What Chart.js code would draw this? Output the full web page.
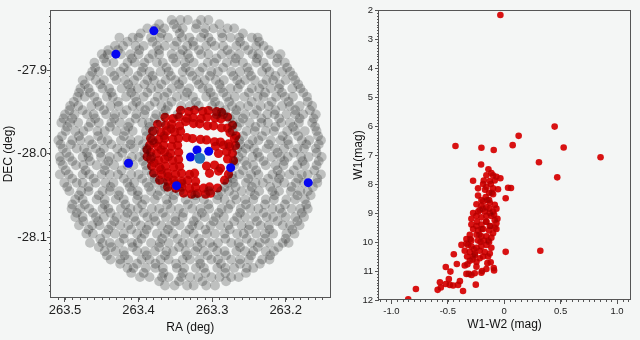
<!DOCTYPE html>
<html>
<head>
<meta charset="utf-8">
<script src="https://cdn.jsdelivr.net/npm/chart.js@4.4.1/dist/chart.umd.min.js"></script>
<style>
  html, body { margin: 0; padding: 0; background: #f4f6f5; }
  #wrap { position: relative; width: 640px; height: 340px; overflow: hidden; }
  canvas { position: absolute; top: 0; }
  #sky { left: 0; }
  #cmd { left: 335px; }
</style>
</head>
<body>
<div id="wrap">
  <canvas id="sky" width="335" height="340"></canvas>
  <canvas id="cmd" width="305" height="340"></canvas>
</div>
<script>
// ticks
const raTicks = [263.5, 263.4, 263.3, 263.2];
const decTicks = [-27.9, -28.0, -28.1];
const colorTicks = [-1.0, -0.5, 0, 0.5, 1.0];
const colorTickLabels = ["-1.0", "-0.5", "0", "0.5", "1.0"];
const w1Ticks = [2, 3, 4, 5, 6, 7, 8, 9, 10, 11, 12];

// field stars (grey), one row per dec: [dec, [ra, ...]]
const fieldRows = [
  [-27.840, [263.305, 263.315, 263.333, 263.343, 263.355]],
  [-27.845, [263.290, 263.321, 263.352, 263.372]],
  [-27.850, [263.270, 263.279, 263.298, 263.309, 263.322, 263.340, 263.348, 263.365, 263.377, 263.388]],
  [-27.856, [263.258, 263.287, 263.311, 263.344, 263.369, 263.397]],
  [-27.861, [263.238, 263.246, 263.263, 263.275, 263.286, 263.305, 263.315, 263.331, 263.341, 263.360, 263.371, 263.383, 263.400, 263.408, 263.426]],
  [-27.866, [263.236, 263.262, 263.301, 263.326, 263.348, 263.381, 263.415]],
  [-27.871, [263.230, 263.240, 263.256, 263.267, 263.285, 263.296, 263.308, 263.325, 263.334, 263.351, 263.364, 263.375, 263.393, 263.404, 263.421, 263.432]],
  [-27.876, [263.223, 263.251, 263.279, 263.318, 263.340, 263.372, 263.399, 263.428, 263.441]],
  [-27.881, [263.207, 263.220, 263.237, 263.245, 263.263, 263.275, 263.287, 263.305, 263.315, 263.333, 263.343, 263.355, 263.372, 263.381, 263.400, 263.411, 263.424, 263.442, 263.450]],
  [-27.886, [263.211, 263.239, 263.268, 263.294, 263.331, 263.353, 263.386, 263.409, 263.447]],
  [-27.891, [263.201, 263.212, 263.230, 263.240, 263.258, 263.269, 263.280, 263.297, 263.306, 263.325, 263.337, 263.349, 263.367, 263.375, 263.392, 263.405, 263.415, 263.434, 263.444, 263.460]],
  [-27.897, [263.198, 263.226, 263.252, 263.285, 263.313, 263.336, 263.362, 263.394, 263.420, 263.459]],
  [-27.902, [263.194, 263.205, 263.222, 263.232, 263.250, 263.262, 263.274, 263.292, 263.301, 263.317, 263.330, 263.340, 263.359, 263.370, 263.385, 263.396, 263.414, 263.425, 263.438, 263.454, 263.463]],
  [-27.907, [263.190, 263.214, 263.247, 263.271, 263.303, 263.327, 263.356, 263.381, 263.401, 263.433, 263.466]],
  [-27.912, [263.187, 263.200, 263.217, 263.226, 263.242, 263.255, 263.266, 263.284, 263.295, 263.310, 263.321, 263.340, 263.350, 263.363, 263.379, 263.388, 263.406, 263.418, 263.430, 263.447, 263.458, 263.476]],
  [-27.917, [263.183, 263.208, 263.231, 263.262, 263.290, 263.318, 263.345, 263.369, 263.392, 263.414, 263.452, 263.473]],
  [-27.922, [263.180, 263.191, 263.209, 263.220, 263.236, 263.246, 263.265, 263.275, 263.288, 263.305, 263.313, 263.331, 263.343, 263.355, 263.373, 263.383, 263.401, 263.411, 263.423, 263.440, 263.449, 263.468, 263.479]],
  [-27.927, [263.176, 263.205, 263.228, 263.250, 263.285, 263.302, 263.334, 263.361, 263.388, 263.410, 263.437, 263.466, 263.481]],
  [-27.932, [263.171, 263.190, 263.201, 263.213, 263.230, 263.238, 263.256, 263.269, 263.280, 263.298, 263.308, 263.326, 263.337, 263.348, 263.365, 263.374, 263.393, 263.405, 263.417, 263.435, 263.443, 263.460, 263.473, 263.483]],
  [-27.938, [263.170, 263.196, 263.219, 263.246, 263.277, 263.296, 263.322, 263.355, 263.378, 263.403, 263.428, 263.456, 263.488]],
  [-27.943, [263.164, 263.181, 263.194, 263.205, 263.223, 263.234, 263.251, 263.262, 263.273, 263.290, 263.300, 263.318, 263.330, 263.342, 263.360, 263.369, 263.385, 263.398, 263.408, 263.427, 263.438, 263.453, 263.464, 263.482, 263.493]],
  [-27.948, [263.167, 263.187, 263.214, 263.239, 263.267, 263.282, 263.363, 263.391, 263.416, 263.447, 263.476, 263.494]],
  [-27.953, [263.159, 263.176, 263.187, 263.199, 263.215, 263.225, 263.243, 263.255, 263.268, 263.285, 263.294, 263.347, 263.366, 263.376, 263.392, 263.403, 263.421, 263.432, 263.444, 263.461, 263.470, 263.487, 263.500]],
  [-27.958, [263.162, 263.181, 263.209, 263.233, 263.258, 263.276, 263.378, 263.404, 263.433, 263.459, 263.490, 263.502]],
  [-27.963, [263.164, 263.182, 263.194, 263.206, 263.224, 263.233, 263.249, 263.262, 263.272, 263.370, 263.386, 263.395, 263.412, 263.425, 263.437, 263.454, 263.465, 263.482, 263.493, 263.505]],
  [-27.968, [263.160, 263.190, 263.214, 263.241, 263.266, 263.385, 263.414, 263.439, 263.468, 263.497]],
  [-27.973, [263.158, 263.174, 263.187, 263.198, 263.216, 263.227, 263.242, 263.253, 263.272, 263.379, 263.390, 263.408, 263.418, 263.430, 263.446, 263.456, 263.475, 263.486, 263.499]],
  [-27.979, [263.156, 263.183, 263.204, 263.232, 263.258, 263.389, 263.420, 263.455, 263.481, 263.504]],
  [-27.984, [263.152, 263.168, 263.178, 263.197, 263.207, 263.220, 263.237, 263.245, 263.263, 263.381, 263.400, 263.411, 263.424, 263.442, 263.450, 263.467, 263.479, 263.490, 263.509]],
  [-27.989, [263.155, 263.172, 263.196, 263.223, 263.250, 263.262, 263.394, 263.411, 263.437, 263.463, 263.492, 263.506]],
  [-27.994, [263.159, 263.175, 263.184, 263.202, 263.214, 263.226, 263.243, 263.254, 263.266, 263.389, 263.406, 263.418, 263.429, 263.447, 263.458, 263.474, 263.484, 263.503]],
  [-27.999, [263.158, 263.189, 263.211, 263.238, 263.259, 263.392, 263.422, 263.452, 263.470, 263.498]],
  [-28.004, [263.151, 263.169, 263.179, 263.197, 263.207, 263.219, 263.236, 263.245, 263.264, 263.383, 263.399, 263.409, 263.428, 263.439, 263.451, 263.468, 263.476, 263.494, 263.507]],
  [-28.009, [263.155, 263.177, 263.202, 263.230, 263.256, 263.268, 263.394, 263.415, 263.441, 263.466, 263.490, 263.506]],
  [-28.014, [263.158, 263.174, 263.184, 263.203, 263.214, 263.227, 263.244, 263.253, 263.270, 263.390, 263.407, 263.415, 263.433, 263.445, 263.457, 263.475, 263.485, 263.503]],
  [-28.020, [263.161, 263.189, 263.211, 263.240, 263.258, 263.389, 263.423, 263.446, 263.472, 263.499]],
  [-28.025, [263.152, 263.170, 263.178, 263.195, 263.207, 263.218, 263.237, 263.247, 263.263, 263.273, 263.382, 263.400, 263.410, 263.428, 263.439, 263.450, 263.467, 263.476, 263.495, 263.507]],
  [-28.030, [263.157, 263.183, 263.209, 263.224, 263.251, 263.272, 263.378, 263.395, 263.420, 263.461, 263.490]],
  [-28.035, [263.157, 263.175, 263.186, 263.202, 263.212, 263.231, 263.241, 263.254, 263.271, 263.279, 263.367, 263.377, 263.389, 263.406, 263.415, 263.434, 263.445, 263.458, 263.476, 263.484, 263.501]],
  [-28.040, [263.163, 263.192, 263.221, 263.246, 263.268, 263.283, 263.364, 263.386, 263.412, 263.438, 263.468, 263.497]],
  [-28.045, [263.170, 263.180, 263.193, 263.209, 263.218, 263.236, 263.248, 263.260, 263.277, 263.288, 263.304, 263.344, 263.359, 263.371, 263.383, 263.401, 263.409, 263.426, 263.439, 263.449, 263.468, 263.478, 263.494]],
  [-28.050, [263.166, 263.184, 263.215, 263.242, 263.270, 263.292, 263.323, 263.352, 263.374, 263.401, 263.427, 263.454, 263.481]],
  [-28.055, [263.174, 263.187, 263.199, 263.216, 263.227, 263.244, 263.255, 263.267, 263.283, 263.293, 263.311, 263.323, 263.336, 263.353, 263.362, 263.378, 263.391, 263.402, 263.420, 263.431, 263.446, 263.457, 263.476, 263.486]],
  [-28.061, [263.172, 263.201, 263.228, 263.254, 263.275, 263.305, 263.333, 263.361, 263.395, 263.418, 263.446, 263.473, 263.490]],
  [-28.066, [263.170, 263.180, 263.192, 263.208, 263.218, 263.237, 263.248, 263.261, 263.278, 263.287, 263.304, 263.316, 263.327, 263.345, 263.356, 263.372, 263.382, 263.401, 263.411, 263.424, 263.441, 263.449, 263.467, 263.479, 263.491]],
  [-28.071, [263.178, 263.205, 263.230, 263.262, 263.291, 263.314, 263.339, 263.367, 263.393, 263.415, 263.438, 263.462, 263.484]],
  [-28.076, [263.175, 263.187, 263.200, 263.217, 263.226, 263.242, 263.255, 263.266, 263.284, 263.295, 263.310, 263.321, 263.340, 263.350, 263.363, 263.379, 263.388, 263.406, 263.418, 263.430, 263.447, 263.458, 263.476, 263.486]],
  [-28.081, [263.184, 263.211, 263.239, 263.270, 263.298, 263.325, 263.350, 263.377, 263.404, 263.433, 263.455, 263.475]],
  [-28.086, [263.181, 263.194, 263.204, 263.223, 263.234, 263.249, 263.260, 263.278, 263.289, 263.302, 263.318, 263.327, 263.344, 263.357, 263.369, 263.386, 263.397, 263.414, 263.425, 263.437, 263.453, 263.463, 263.481]],
  [-28.091, [263.191, 263.222, 263.250, 263.276, 263.309, 263.331, 263.360, 263.389, 263.410, 263.441, 263.468]],
  [-28.096, [263.188, 263.199, 263.217, 263.228, 263.240, 263.257, 263.266, 263.283, 263.296, 263.307, 263.325, 263.336, 263.353, 263.364, 263.375, 263.392, 263.402, 263.420, 263.432, 263.444, 263.462, 263.471]],
  [-28.102, [263.200, 263.228, 263.253, 263.282, 263.318, 263.347, 263.368, 263.396, 263.420, 263.452]],
  [-28.107, [263.196, 263.204, 263.222, 263.235, 263.246, 263.264, 263.274, 263.292, 263.303, 263.314, 263.331, 263.340, 263.359, 263.371, 263.383, 263.401, 263.409, 263.426, 263.439, 263.449, 263.466]],
  [-28.112, [263.210, 263.238, 263.262, 263.299, 263.320, 263.345, 263.372, 263.408, 263.437, 263.454]],
  [-28.117, [263.216, 263.227, 263.244, 263.255, 263.267, 263.283, 263.293, 263.311, 263.323, 263.336, 263.353, 263.362, 263.378, 263.391, 263.402, 263.420, 263.431, 263.446]],
  [-28.122, [263.221, 263.247, 263.281, 263.306, 263.334, 263.364, 263.389, 263.419, 263.443]],
  [-28.127, [263.222, 263.232, 263.250, 263.262, 263.274, 263.292, 263.301, 263.317, 263.330, 263.340, 263.359, 263.370, 263.385, 263.396, 263.414, 263.425, 263.438]],
  [-28.132, [263.235, 263.262, 263.288, 263.316, 263.349, 263.377, 263.402, 263.425]],
  [-28.137, [263.244, 263.253, 263.270, 263.282, 263.293, 263.311, 263.322, 263.338, 263.348, 263.367, 263.377, 263.390, 263.407, 263.415]],
  [-28.143, [263.254, 263.282, 263.309, 263.340, 263.366, 263.393, 263.410]],
  [-28.148, [263.264, 263.274, 263.290, 263.301, 263.319, 263.330, 263.342, 263.359, 263.368, 263.385, 263.398]],
  [-28.153, [263.281, 263.313, 263.345, 263.372]],
  [-28.158, [263.296, 263.308, 263.325, 263.334, 263.351, 263.364]]
];

// cluster members (red) [ra, dec]
const memberRaDec = [
  [263.3428, -27.9481], [263.3318, -27.9497], [263.3238, -27.9479], [263.3128, -27.9493], [263.3050, -27.9484], [263.2939, -27.9498], [263.2872, -27.9505],
  [263.3640, -27.9566], [263.3530, -27.9580], [263.3450, -27.9562], [263.3339, -27.9576], [263.3260, -27.9569], [263.3150, -27.9580], [263.3070, -27.9563], [263.2959, -27.9573], [263.2880, -27.9584], [263.2790, -27.9562],
  [263.3741, -27.9650], [263.3631, -27.9662], [263.3551, -27.9648], [263.3441, -27.9667], [263.3360, -27.9616], [263.3252, -27.9640], [263.3170, -27.9644], [263.3062, -27.9668], [263.2980, -27.9667], [263.2872, -27.9692], [263.2790, -27.9694], [263.2722, -27.9660],
  [263.3808, -27.9731], [263.3699, -27.9745], [263.3618, -27.9728], [263.3509, -27.9744], [263.3428, -27.9733], [263.2756, -27.9751], [263.2675, -27.9787],
  [263.3835, -27.9816], [263.3727, -27.9830], [263.3646, -27.9815], [263.3537, -27.9829], [263.3456, -27.9818], [263.3347, -27.9808], [263.3266, -27.9820], [263.3157, -27.9831], [263.3076, -27.9836], [263.2967, -27.9858], [263.2886, -27.9862], [263.2777, -27.9884], [263.2696, -27.9818],
  [263.3849, -27.9899], [263.3740, -27.9913], [263.3659, -27.9898], [263.3550, -27.9912], [263.3469, -27.9901], [263.2953, -27.9912], [263.2844, -27.9897], [263.2763, -27.9915], [263.2682, -27.9902],
  [263.3835, -27.9984], [263.3754, -28.0001], [263.3645, -27.9981], [263.3564, -27.9998], [263.3455, -27.9983], [263.2913, -27.9999], [263.2804, -27.9979], [263.2723, -27.9997],
  [263.3835, -28.0067], [263.3727, -28.0081], [263.3646, -28.0066], [263.3537, -28.0083], [263.3456, -28.0070], [263.2790, -28.0064], [263.2709, -28.0085],
  [263.3822, -28.0150], [263.3713, -28.0165], [263.3632, -28.0149], [263.3523, -28.0163], [263.3442, -28.0152],
  [263.3076, -28.0150], [263.2967, -28.0138], [263.2886, -28.0176], [263.3035, -28.0236], [263.2912, -28.0210],
  [263.3795, -28.0234], [263.3686, -28.0248], [263.3605, -28.0232], [263.3496, -28.0249], [263.3415, -28.0236], [263.3306, -28.0250], [263.3238, -28.0235], [263.2777, -28.0247],
  [263.3713, -28.0318], [263.3604, -28.0333], [263.3523, -28.0317], [263.3414, -28.0331], [263.3333, -28.0320], [263.3224, -28.0334], [263.2831, -28.0319],
  [263.3605, -28.0401], [263.3496, -28.0416], [263.3415, -28.0402], [263.3306, -28.0417], [263.3225, -28.0403], [263.3116, -28.0414], [263.3035, -28.0400], [263.2926, -28.0412],
  [263.3388, -28.0473], [263.3279, -28.0486], [263.3198, -28.0476], [263.3089, -28.0487], [263.3021, -28.0474],
  [263.3788, -27.9870], [263.3693, -27.9954], [263.3598, -28.0038], [263.3788, -28.0110], [263.3693, -28.0193], [263.3598, -28.0277],
  [263.3503, -28.0361], [263.3652, -27.9787], [263.3557, -27.9703], [263.3883, -27.9954], [263.3883, -28.0038], [263.3408, -28.0361]
];

// other stars (blue) [ra, dec]
const blueRaDec = [
  [263.3792, -27.8530], [263.4308, -27.8809], [263.4136, -28.0116], [263.3484, -28.0384], [263.3294, -28.0041],
  [263.3205, -27.9957], [263.3046, -27.9973], [263.2748, -28.0169], [263.1693, -28.0348]
];
const centreRaDec = [[263.3168, -28.0056]];

// colour-magnitude diagram of the members
const cmdColor = [
  -0.034, 0.447, 0.128, -0.432, -0.202, -0.093, 0.075, 0.527, 0.854, 0.308, 0.470, -0.205, 0.320, 0.013, -0.851, -0.783,
  -0.034, 0.034, 0.060, 0.013, -0.276, -0.140,
  -0.590, -0.562, -0.570, -0.518, -0.482, -0.453, -0.409, -0.491, -0.393, -0.365, -0.252, -0.518, -0.477, -0.420, -0.447,
  -0.350, -0.326, -0.314, -0.290, -0.261, -0.196, -0.158, -0.149, -0.093, -0.090, -0.246, -0.217, -0.187, -0.143, -0.202, -0.246, -0.335,
  -0.114, -0.099, -0.069, -0.158, -0.181, -0.128, -0.084,
  -0.232, -0.187, -0.158, -0.119, -0.099, -0.055, -0.099, -0.134, -0.164, -0.232, -0.202, -0.134, -0.187,
  -0.246, -0.202, -0.158, -0.128, -0.084, -0.217, -0.173, -0.128, -0.099, -0.276, -0.069,
  -0.291, -0.246, -0.202, -0.158, -0.114, -0.084, -0.069, -0.158, -0.202, -0.246, -0.128, -0.084, -0.291,
  -0.276, -0.232, -0.187, -0.134, -0.099, -0.069, -0.305, -0.246, -0.202, -0.158, -0.114, -0.335, -0.291, -0.232, -0.181, -0.134,
  -0.379, -0.335, -0.291, -0.246, -0.202, -0.158, -0.114, -0.350, -0.305, -0.261, -0.217, -0.173, -0.128, -0.329, -0.276,
  -0.150, -0.220, -0.120, -0.300, -0.260, -0.160, -0.190, -0.210, -0.240, -0.110, -0.270, -0.140, -0.170, -0.090, -0.280,
  -0.200, -0.230, -0.320, -0.130, -0.060, -0.305, -0.120
];
const cmdW1 = [
  2.17, 6.02, 6.34, 6.69, 6.75, 6.83, 6.66, 6.74, 7.08, 7.25, 7.77, 7.33, 10.30, 10.34, 11.98, 11.62,
  7.80, 8.13, 8.14, 8.49, 7.89, 7.49,
  11.65, 11.57, 11.39, 11.45, 11.48, 11.50, 11.48, 11.28, 11.35, 11.69, 11.47, 10.86, 11.02, 10.76, 10.42,
  10.81, 10.77, 11.10, 11.14, 11.08, 11.00, 10.93, 10.73, 10.90, 10.98, 10.68, 10.56, 10.50, 10.50, 11.06, 10.85, 11.10,
  7.62, 7.70, 7.75, 7.70, 7.88, 7.90, 7.88,
  8.15, 8.00, 8.10, 8.00, 8.15, 8.18, 8.35, 8.30, 8.45, 8.40, 8.55, 8.55, 8.60,
  8.70, 8.75, 8.80, 8.65, 8.72, 8.90, 8.95, 9.00, 8.95, 9.00, 8.85,
  9.20, 9.10, 9.15, 9.10, 9.10, 9.25, 9.35, 9.30, 9.40, 9.45, 9.45, 9.50, 9.40,
  9.55, 9.60, 9.55, 9.60, 9.70, 9.55, 9.75, 9.75, 9.80, 9.80, 9.85, 9.90, 9.95, 9.95, 9.95, 10.00,
  10.10, 10.05, 10.15, 10.20, 10.15, 10.10, 10.20, 10.30, 10.35, 10.40, 10.30, 10.35, 10.40, 10.50, 10.50,
  8.55, 9.75, 9.45, 9.90, 10.45, 9.30, 8.85, 10.00, 9.30, 8.30, 10.25, 9.95, 8.20, 9.05, 10.60,
  9.55, 8.95, 10.10, 8.85, 9.20, 10.65, 10.70
];

const BG = "#f4f6f5";
const FONT = "'Liberation Sans', Arial, sans-serif";

function framePlugin(minor) {
  return {
    id: "frame",
    beforeDraw(chart) {
      const c = chart.ctx;
      c.save();
      c.fillStyle = BG;
      c.fillRect(0, 0, chart.width, chart.height);
      c.restore();
    },
    beforeDatasetDraw(chart, args) {
      if (chart.data.datasets[args.index].multiply) {
        chart.ctx.save();
        chart.ctx.globalCompositeOperation = "multiply";
      }
    },
    afterDatasetDraw(chart, args) {
      if (chart.data.datasets[args.index].multiply) chart.ctx.restore();
    },
    afterDraw(chart) {
      const c = chart.ctx, a = chart.chartArea;
      const xs = chart.scales.x, ys = chart.scales.y;
      c.save();
      c.strokeStyle = "#555";
      c.lineWidth = 1;
      c.strokeRect(Math.round(a.left) - 0.5, Math.round(a.top) + 0.5,
                   Math.round(a.right - a.left) + 1, Math.round(a.bottom - a.top) - 1);
      // minor ticks
      c.beginPath();
      for (let v = minor.x[0]; v <= minor.x[1] + 1e-9; v += minor.x[2]) {
        const p = Math.round(xs.getPixelForValue(v)) + 0.5;
        if (p <= a.left + 1 || p >= a.right - 1) continue;
        c.moveTo(p, a.bottom); c.lineTo(p, a.bottom + 2);
      }
      for (let v = minor.y[0]; v <= minor.y[1] + 1e-9; v += minor.y[2]) {
        const p = Math.round(ys.getPixelForValue(v)) + 0.5;
        if (p <= a.top + 1 || p >= a.bottom - 1) continue;
        c.moveTo(a.left, p); c.lineTo(a.left - 2, p);
      }
      c.stroke();
      c.restore();
    }
  };
}

function axisGrid() {
  return { display: true, drawOnChartArea: false, drawTicks: true, tickLength: 4, color: "#555" };
}

// ---- left: sky positions ----
const fieldPts = [];
fieldRows.forEach(row => row[1].forEach(ra => fieldPts.push({ x: ra, y: row[0] })));
const toXY = arr => arr.map(p => ({ x: p[0], y: p[1] }));

new Chart(document.getElementById("sky"), {
  type: "scatter",
  data: {
    datasets: [
      { data: toXY(centreRaDec), pointRadius: 5.5, pointBackgroundColor: "rgb(40,118,188)", pointBorderWidth: 0 },
      { data: toXY(blueRaDec), pointRadius: 4.5, pointBackgroundColor: "rgb(6,6,240)", pointBorderWidth: 0 },
      { data: toXY(memberRaDec), pointRadius: 4.6, pointBackgroundColor: "rgb(226,18,18)", pointBorderWidth: 0, multiply: true },
      { data: fieldPts, pointRadius: 4.9, pointBackgroundColor: "rgb(199,199,199)", pointBorderWidth: 0, multiply: true }
    ]
  },
  options: {
    responsive: false, animation: false, events: [],
    layout: { padding: { top: 10, right: 5, left: 0, bottom: 0 } },
    plugins: { legend: { display: false }, tooltip: { enabled: false } },
    scales: {
      x: {
        type: "linear", reverse: true, min: 263.1404, max: 263.519,
        afterBuildTicks: s => { s.ticks = raTicks.map(v => ({ value: v })); },
        afterFit: s => { s.height = 42; },
        ticks: { font: { family: FONT, size: 13 }, color: "#222", padding: 1, maxRotation: 0, autoSkip: false,
                 callback: v => v.toFixed(1) },
        grid: axisGrid(), border: { display: false },
        title: { display: true, text: "RA (deg)", font: { family: FONT, size: 12 }, color: "#111", padding: { top: 0, bottom: 5 } }
      },
      y: {
        type: "linear", min: -28.173, max: -27.828,
        afterBuildTicks: s => { s.ticks = decTicks.map(v => ({ value: v })); },
        afterFit: s => { s.width = 51; },
        ticks: { font: { family: FONT, size: 13 }, color: "#222", padding: 0, autoSkip: false,
                 callback: v => v.toFixed(1) },
        grid: axisGrid(), border: { display: false },
        title: { display: true, text: "DEC (deg)", font: { family: FONT, size: 12 }, color: "#111", padding: { top: 1, bottom: 0 } }
      }
    }
  },
  plugins: [framePlugin({ x: [263.14, 263.51, 0.01], y: [-28.1714, -27.83, 0.1 / 14] })]
});

// ---- right: colour-magnitude diagram ----
new Chart(document.getElementById("cmd"), {
  type: "scatter",
  data: {
    datasets: [
      { data: cmdColor.map((c, i) => ({ x: c, y: cmdW1[i] })), pointRadius: 3.3, pointBackgroundColor: "rgb(226,18,18)",
        pointBorderWidth: 0, multiply: true }
    ]
  },
  options: {
    responsive: false, animation: false, events: [],
    layout: { padding: { top: 10, right: 10, left: 0, bottom: 0 } },
    plugins: { legend: { display: false }, tooltip: { enabled: false } },
    scales: {
      x: {
        type: "linear", min: -1.11, max: 1.115,
        afterBuildTicks: s => { s.ticks = colorTicks.map(v => ({ value: v })); },
        afterFit: s => { s.height = 40; },
        ticks: { font: { family: FONT, size: 9.5 }, color: "#222", padding: 2, maxRotation: 0, autoSkip: false,
                 callback: (v, i) => colorTickLabels[i] },
        grid: axisGrid(), border: { display: false },
        title: { display: true, text: "W1-W2 (mag)", font: { family: FONT, size: 12 }, color: "#111", padding: { top: 0, bottom: 8 } }
      },
      y: {
        type: "linear", min: 2, max: 12, reverse: true,
        afterBuildTicks: s => { s.ticks = w1Ticks.map(v => ({ value: v })); },
        afterFit: s => { s.width = 44; },
        ticks: { font: { family: FONT, size: 9.5 }, color: "#222", padding: 2, autoSkip: false,
                 callback: v => String(v) },
        grid: axisGrid(), border: { display: false },
        title: { display: true, text: "W1(mag)", font: { family: FONT, size: 12 }, color: "#111", padding: { top: 16, bottom: 0 } }
      }
    }
  },
  plugins: [framePlugin({ x: [-1.1, 1.1, 0.05], y: [2, 12, 0.1] })]
});
</script>
</body>
</html>
